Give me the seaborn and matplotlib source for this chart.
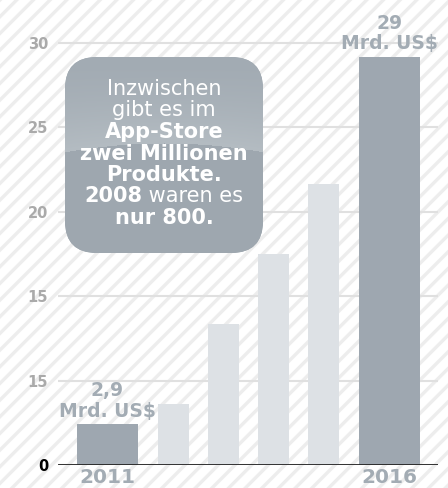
import numpy as np
import pandas as pd
import matplotlib
matplotlib.use("Agg")
import matplotlib.pyplot as plt
import seaborn as sns
from matplotlib.patches import FancyBboxPatch, Rectangle

# ---------------- data ----------------
years = ["2011", "2012", "2013", "2014", "2015", "2016"]
revenue = [2.9, 4.3, 10.0, 15.0, 20.0, 29.0]
highlight = [True, False, False, False, False, True]
tick_values = [0, 6, 12, 18, 24, 30]
tick_labels = ["0", "15", "15", "20", "25", "30"]
xtick_labels = ["2011", "", "", "", "", "2016"]
end_labels = {0: "2,9\nMrd. US$", 5: "29\nMrd. US$"}
box_lines = [
    [("Inzwischen", "normal")],
    [("gibt es im", "normal")],
    [("App-Store", "bold")],
    [("zwei Millionen", "bold")],
    [("Produkte.", "bold")],
    [("2008", "bold"), (" waren es", "normal")],
    [("nur 800.", "bold")],
]

# ---------------- style ----------------
sns.set_theme(style="white")
plt.rcParams['font.family'] = ['DejaVu Sans']
plt.rcParams['hatch.linewidth'] = 2.4

DARK = "#9ea7b0"
LIGHT = "#dde1e5"
LABEL = "#a3acb4"

W, H = 448, 488
fig = plt.figure(figsize=(W / 100, H / 100), dpi=100)
fig.patch.set_facecolor("white")
bg = Rectangle((0, 0), 1, 1, transform=fig.transFigure, facecolor="white",
               edgecolor="#ededed", hatch="//", linewidth=0, zorder=-10)
fig.patches.append(bg)

# main axes: 0 at y=465px, 14.07 px per unit, x from 58 to 438 px
px_per_unit = 14.07
ymax = 32
ax = fig.add_axes([58 / W, (H - 465) / H, 380 / W, ymax * px_per_unit / H])
ax.patch.set_alpha(0)

df = pd.DataFrame({"year": years, "revenue": revenue, "hl": highlight})
sns.barplot(data=df, x="year", y="revenue", hue="hl",
            palette={True: DARK, False: LIGHT}, dodge=False, legend=False,
            width=0.55, saturation=1, ax=ax, zorder=3)

# bar geometry tweaks (layout)
unit = 56.4
wide_w = 61 / unit
narrow_w = 31 / unit
shifts = [0, 0.17, 0.057, -0.057, -0.17, 0]
for p in ax.patches:
    c = p.get_x() + p.get_width() / 2
    i = int(round(c))
    w = wide_w if highlight[i] else narrow_w
    p.set_width(w)
    p.set_x(i + shifts[i] - w / 2)
    p.set_linewidth(0)

ax.set_xlim((58 - 107.5) / unit, (438 - 107.5) / unit)
ax.set_ylim(0, ymax)
for s in ax.spines.values():
    s.set_visible(False)

ax.set_yticks(tick_values)
ax.set_yticklabels(tick_labels)
ax.yaxis.grid(True, color="#e0e0e0", linewidth=1.5, zorder=1)
ax.set_axisbelow(True)
ax.axhline(0, color="#222222", linewidth=2, zorder=4)
ax.tick_params(axis="y", length=0, pad=7)
for lab in ax.get_yticklabels():
    lab.set_fontweight("bold")
    lab.set_fontsize(10.5)
    lab.set_color("#000000" if lab.get_text() == "0" else "#aaaaaa")

ax.set_xticks(range(len(years)))
ax.set_xticklabels(xtick_labels)
ax.tick_params(axis="x", length=0, pad=2)
for lab in ax.get_xticklabels():
    lab.set_fontweight("bold")
    lab.set_fontsize(14.5)
    lab.set_color(LABEL)
ax.set_xlabel("")
ax.set_ylabel("")

for i, txt in end_labels.items():
    ax.annotate(txt, xy=(i + shifts[i], revenue[i]), xytext=(0, 2.5),
                textcoords="offset points", ha="center", va="bottom",
                fontsize=13.5, fontweight="bold", color=LABEL,
                linespacing=1.1, zorder=5, annotation_clip=False)

# ---------------- overlay: info box ----------------
ov = fig.add_axes([0, 0, 1, 1])
ov.set_xlim(0, W)
ov.set_ylim(H, 0)
ov.axis("off")
ov.patch.set_alpha(0)

bx, by, bw, bh = 65, 57, 198, 196
box = FancyBboxPatch((bx, by), bw, bh, boxstyle="round,pad=0,rounding_size=32",
                     facecolor="#9ea7af", edgecolor="none", zorder=1)
ov.add_patch(box)

# gloss gradient inside the box
ny, nx = bh, bw
yy, xx = np.mgrid[0:ny, 0:nx]
yabs = yy + by
xabs = xx + bx
yc = 143 + 0.0009 * (xabs - 164) ** 2
top = np.array([0xa2, 0xab, 0xb3]) / 255
light = np.array([0xb4, 0xbc, 0xc2]) / 255
base = np.array([0x9e, 0xa7, 0xaf]) / 255
t = np.clip((yabs - by) / (yc - by), 0, 1)[..., None]
img = np.where((yabs < yc)[..., None], top + (light - top) * t ** 1.5, base)
im = ov.imshow(img, extent=(bx, bx + bw, by + bh, by), interpolation="bilinear",
               zorder=2, aspect="auto")
im.set_clip_path(box)

fig.canvas.draw()
renderer = fig.canvas.get_renderer()
y0, dy = 89, 21.5
for k, segs in enumerate(box_lines):
    y = y0 + k * dy
    texts = []
    for s, wgt in segs:
        tt = ov.text(0, y, s, fontsize=15, fontweight=wgt, color="white",
                     ha="left", va="center", zorder=5)
        texts.append(tt)
    widths = [tt.get_window_extent(renderer).width for tt in texts]
    total = sum(widths)
    x = 164 - total / 2
    for tt, w in zip(texts, widths):
        tt.set_x(x)
        x += w

fig.savefig("out.png", dpi=100, facecolor="white")
